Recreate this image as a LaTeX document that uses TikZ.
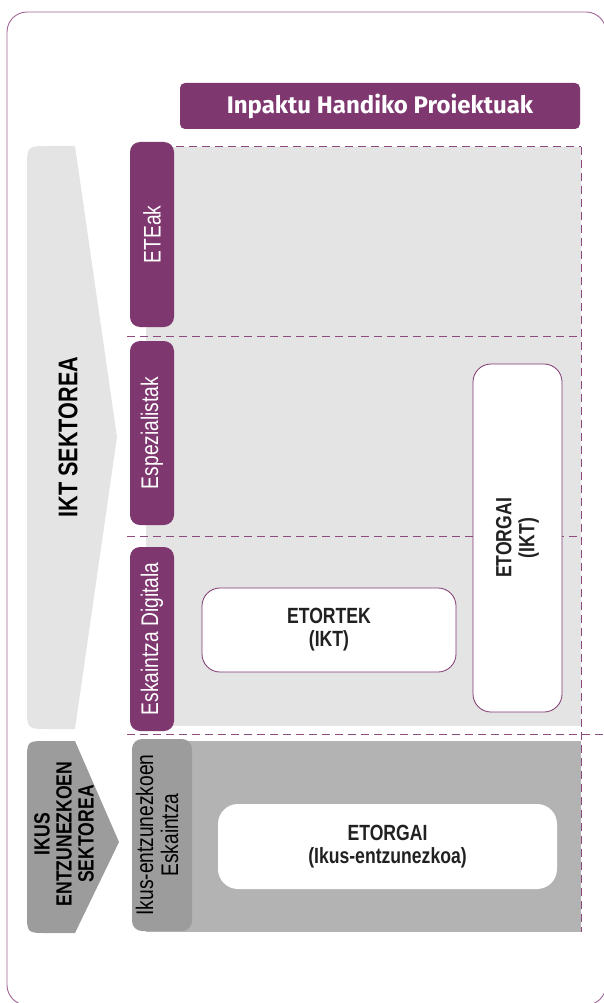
\documentclass[tikz,border=0pt]{standalone}
\usepackage{fontspec}
\usepackage{tikz}
\usetikzlibrary{positioning}

\newfontfamily\narrowfont[FakeStretch=0.8]{Liberation Sans}
\newfontfamily\headfont{Fira Sans}

\definecolor{proj}{RGB}{127,55,112}
\definecolor{frameline}{RGB}{160,100,150}
\definecolor{ltgray}{RGB}{228,228,228}
\definecolor{dkgray}{RGB}{179,179,179}
\definecolor{midgray}{RGB}{156,156,156}

\tikzset{
  tab/.style={fill=proj, rounded corners=10pt, rotate=90, text=white,
    inner sep=0pt, font=\narrowfont\fontsize{24}{27}\selectfont},
  projbox/.style={fill=white, draw=proj, line width=0.8pt, rounded corners=18pt,
    align=center, inner sep=0pt, text=black!87,
    font=\narrowfont\bfseries\fontsize{22}{23}\selectfont},
  split/.style={draw=proj!90, line width=1pt, dash pattern=on 8pt off 5pt},
}

\begin{document}
\begin{tikzpicture}[x=1pt, y=-1pt]
\useasboundingbox (0,0) rectangle (604,1003);
\clip (0,0) rectangle (604,1003);
\draw[frameline, line width=0.9pt, rounded corners=20pt] (7,12) rectangle (606,1005);

% header
\node[fill=proj, rounded corners=5pt, minimum width=400pt, minimum height=46pt,
  text=white, font=\headfont\bfseries\fontsize{24}{28}\selectfont] (hdr) at (380,106)
  {Inpaktu Handiko Proiektuak};

% backgrounds
\fill[ltgray] (146,147) rectangle (581,726);
\fill[dkgray] (146,741) rectangle (581,932);

% split lines
\draw[split] (176,147) -- (581,147);
\draw[split] (127,336) -- (581,336);
\draw[split] (127,536) -- (581,536);
\draw[split] (127,734) -- (604,734);
\draw[split] (581,147) -- (581,932);

% tabs
\node[tab, minimum width=185pt, minimum height=44pt] (eteak) at (152,234.5) {ETEak};
\node[tab, minimum width=184pt, minimum height=44pt] (espez) at (152,433) {Espezialistak};
\node[tab, minimum width=184pt, minimum height=44pt] (eskaintza) at (152,639) {Eskaintza Digitala};
\node[tab, fill=midgray, minimum width=192pt, minimum height=60pt] (ikustab) at (162,835) {};
\node[rotate=90, align=center, inner sep=0pt,
  font=\narrowfont\fontsize{24}{25}\selectfont] (ikustext) at (157,835)
  {Ikus-entzunezkoen\\Eskaintza};

% sector arrows
\fill[ltgray] (117,437) -- (75,729) -- (49,729) .. controls (27,729) .. (27,707)
  -- (27,168) .. controls (27,146) .. (49,146) -- (75,146) -- cycle;
\fill[midgray] (119,842) -- (75,933) -- (47,933) .. controls (27,933) .. (27,913)
  -- (27,761) .. controls (27,741) .. (47,741) -- (75,741) -- cycle;
\node[rotate=90, font=\narrowfont\bfseries\fontsize{27}{30}\selectfont] (ikt) at (68,437)
  {IKT SEKTOREA};
\node[rotate=90, align=center, inner sep=0pt,
  font=\narrowfont\bfseries\fontsize{22}{22}\selectfont] (ikus) at (64,834)
  {IKUS\\ENTZUNEZKOEN\\SEKTOREA};

% projects
\node[projbox, minimum width=254pt, minimum height=84pt] (etortek) at (329,630)
  {ETORTEK\\(IKT)};
\node[projbox, rotate=90, minimum width=348pt, minimum height=89pt] (etorgaiikt) at (517.5,538)
  {ETORGAI\\(IKT)};
\node[projbox, draw=none, rounded corners=20pt, minimum width=339pt, minimum height=85pt]
  (etorgaiikus) at (387.5,846.5) {ETORGAI\\(Ikus-entzunezkoa)};
\end{tikzpicture}
\end{document}
